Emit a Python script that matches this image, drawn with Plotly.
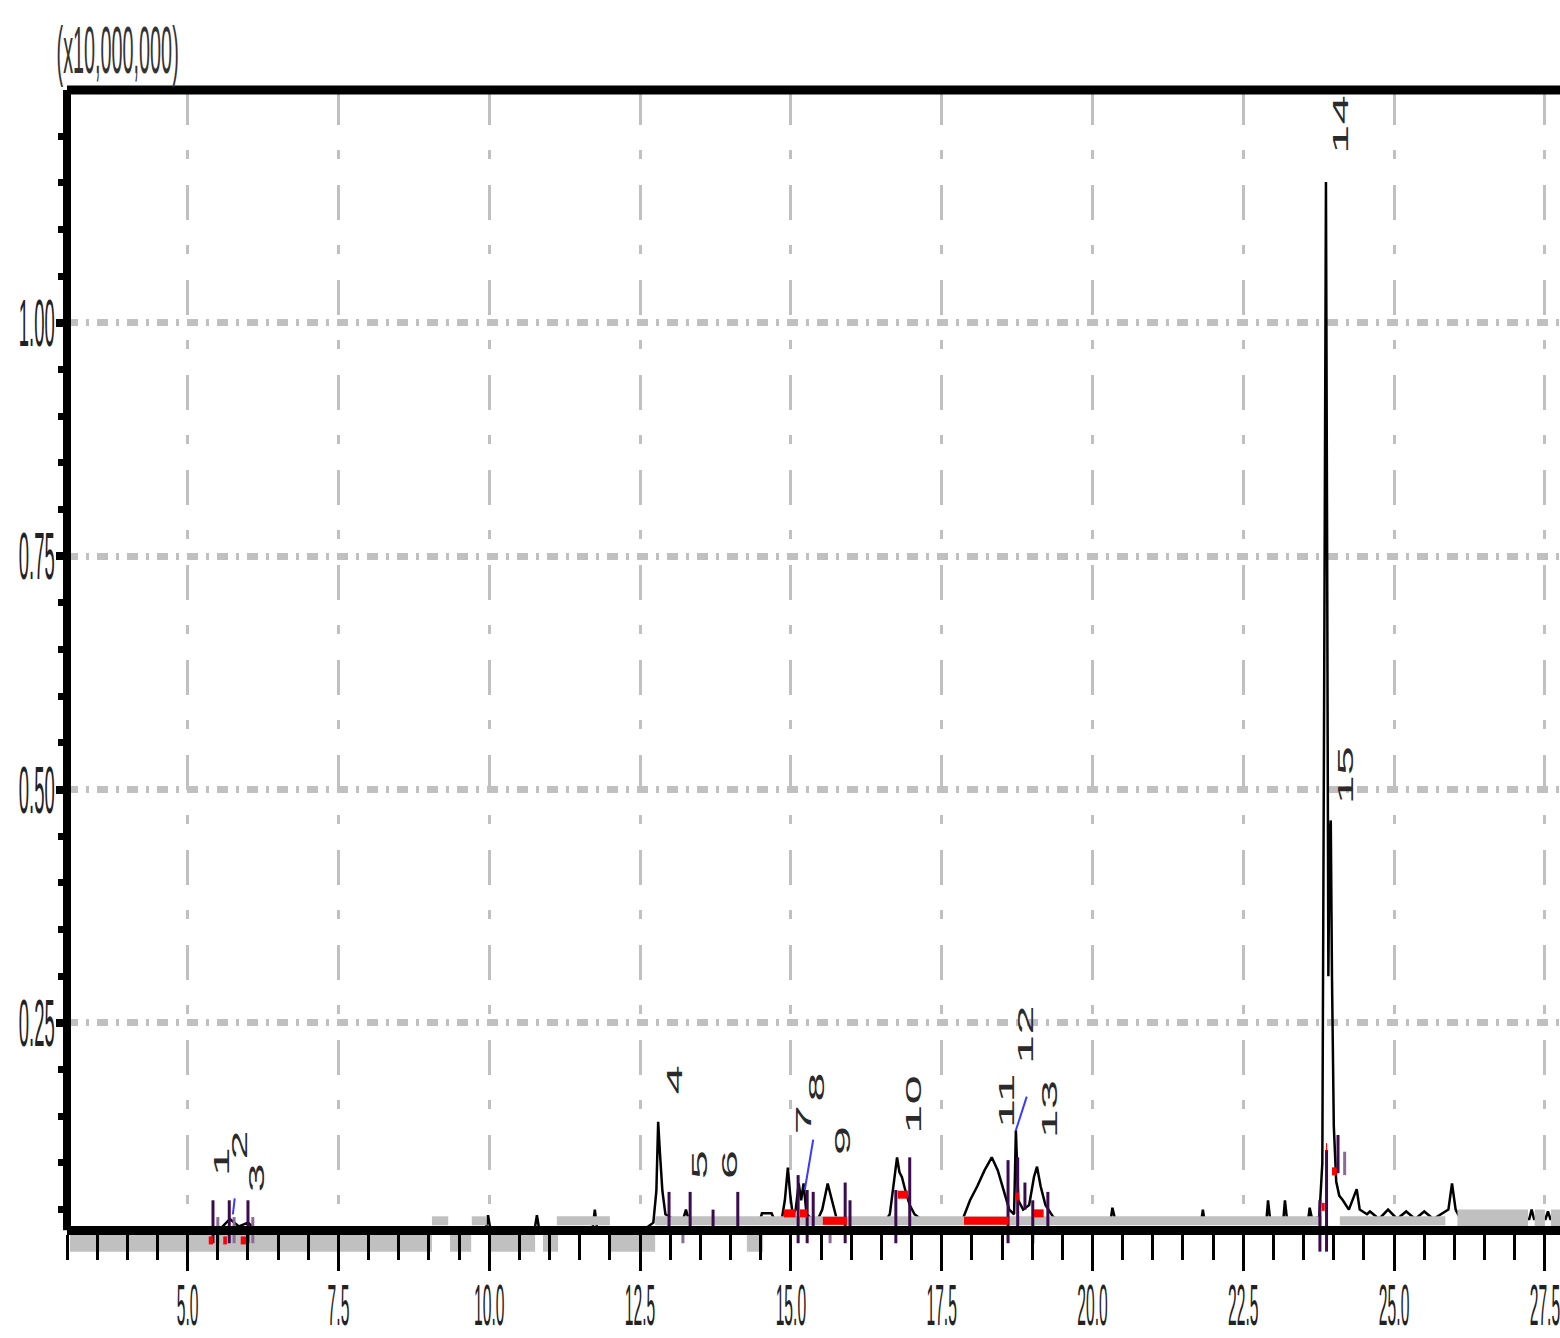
import plotly.graph_objects as go

# ---------------- data ----------------
# chromatogram signal (retention time [min], intensity [x10,000,000])
sig_t = [3.00, 5.40, 5.55, 5.70, 5.85, 6.00, 6.15, 9.00, 9.94, 9.98, 10.02, 10.75, 10.79, 10.83,
         11.71, 11.75, 11.79, 12.55, 12.72, 12.77, 12.80, 12.83, 12.87, 12.92, 13.05, 13.20, 13.26,
         13.32, 14.48, 14.52, 14.68, 14.75, 14.85, 14.90, 14.95, 14.99, 15.03, 15.08, 15.13, 15.17,
         15.21, 15.26, 15.35, 15.45, 15.52, 15.61, 15.68, 15.76, 15.85, 16.55, 16.64, 16.70, 16.76,
         16.80, 16.84, 16.90, 16.97, 17.05, 17.15, 17.85, 17.97, 18.09, 18.21, 18.33, 18.43, 18.53,
         18.62, 18.70, 18.73, 18.77, 18.85, 18.95, 19.03, 19.08, 19.14, 19.22, 19.35, 19.50, 20.30,
         20.33, 20.38, 21.80, 21.83, 21.86, 22.88, 22.91, 22.95, 23.16, 23.19, 23.23, 23.57, 23.60,
         23.64, 23.76, 23.81, 23.84, 23.87, 23.89, 23.91, 23.93, 23.95, 23.97, 24.00, 24.04, 24.09,
         24.15, 24.25, 24.38, 24.43, 24.55, 24.60, 24.75, 24.90, 25.05, 25.20, 25.35, 25.50, 25.65,
         25.80, 25.90, 25.96, 26.02, 26.10, 27.24, 27.28, 27.32, 27.51, 27.55, 27.59, 27.75]
sig_v = [0.028, 0.028, 0.030, 0.040, 0.032, 0.036, 0.028, 0.028, 0.028, 0.044, 0.028, 0.028, 0.044, 0.028,
         0.028, 0.050, 0.028, 0.028, 0.036, 0.070, 0.144, 0.110, 0.070, 0.045, 0.040, 0.036, 0.050,
         0.036, 0.036, 0.046, 0.046, 0.036, 0.040, 0.060, 0.095, 0.065, 0.045, 0.050, 0.078, 0.060,
         0.078, 0.045, 0.040, 0.040, 0.050, 0.078, 0.060, 0.040, 0.038, 0.036, 0.045, 0.075, 0.106,
         0.090, 0.085, 0.070, 0.055, 0.045, 0.040, 0.040, 0.060, 0.075, 0.092, 0.106, 0.092, 0.070,
         0.050, 0.045, 0.135, 0.060, 0.050, 0.055, 0.085, 0.096, 0.075, 0.055, 0.042, 0.038, 0.038,
         0.052, 0.038, 0.036, 0.050, 0.036, 0.036, 0.060, 0.036, 0.036, 0.060, 0.036, 0.036, 0.052,
         0.040, 0.042, 0.100, 0.600, 1.151, 0.750, 0.300, 0.450, 0.467, 0.300, 0.140, 0.080, 0.065,
         0.060, 0.050, 0.072, 0.050, 0.045, 0.048, 0.040, 0.050, 0.040, 0.048, 0.040, 0.048, 0.040,
         0.046, 0.050, 0.078, 0.050, 0.040, 0.040, 0.050, 0.040, 0.040, 0.048, 0.040, 0.040]

# integration baseline bands (start, end, level)
base_low_start = [3.05, 9.35, 10.01, 10.89, 12.00, 14.27]
base_low_end = [9.05, 9.70, 10.76, 11.14, 12.75, 14.54]
base_low_level = [0.014, 0.014, 0.014, 0.014, 0.014, 0.014]
base_mid_start = [9.05, 9.71, 11.12, 12.75, 24.10]
base_mid_end = [9.32, 9.96, 12.00, 23.80, 25.85]
base_mid_level = [0.038, 0.038, 0.038, 0.038, 0.038]
base_tail_start = [26.05, 27.33, 27.60]
base_tail_end = [27.22, 27.50, 27.75]
base_tail_level = [0.041, 0.041, 0.041]

# peak start/end markers (time, top, bottom)
mark_t = [5.42, 5.69, 6.00, 12.98, 13.33, 13.71, 14.12, 15.12, 15.27, 15.37, 15.90, 15.98,
          16.74, 16.97, 18.60, 18.76, 18.88, 19.01, 19.26, 23.77, 23.88, 24.07]
mark_top = [0.060, 0.060, 0.060, 0.069, 0.069, 0.050, 0.069, 0.087, 0.071, 0.069, 0.079, 0.060,
            0.071, 0.106, 0.103, 0.106, 0.079, 0.060, 0.069, 0.060, 0.114, 0.130]
mark_bot = [0.014, 0.014, 0.014, 0.030, 0.030, 0.030, 0.030, 0.014, 0.014, 0.030, 0.014, 0.030,
            0.014, 0.030, 0.014, 0.030, 0.050, 0.014, 0.030, 0.005, 0.005, 0.089]
mark_light_t = [5.50, 5.77, 6.08, 13.21, 15.65, 24.18]
mark_light_top = [0.042, 0.042, 0.042, 0.023, 0.023, 0.112]
mark_light_bot = [0.014, 0.014, 0.014, 0.014, 0.014, 0.087]

# red peak-top flags (start, end, level)
red_start = [5.35, 5.59, 5.88, 14.88, 15.15, 15.53, 16.77, 17.87, 18.73, 19.03, 23.80, 23.87, 23.97]
red_end = [5.42, 5.65, 5.98, 15.08, 15.27, 15.93, 16.94, 18.61, 18.78, 19.19, 23.85, 23.89, 24.05]
red_level = [0.017, 0.017, 0.017, 0.046, 0.046, 0.038, 0.066, 0.038, 0.064, 0.046, 0.053, 0.117, 0.091]

# blue leader lines (t0, v0, t1, v1)
lead_t0 = [5.75, 15.23, 18.73]
lead_v0 = [0.045, 0.071, 0.135]
lead_t1 = [5.78, 15.37, 18.91]
lead_v1 = [0.062, 0.125, 0.171]

# peak number labels
lab_text = ["1", "2", "3", "4", "5", "6", "7", "8", "9", "10", "11", "12", "13", "14", "15"]
lab_t = [5.55, 5.85, 6.15, 13.08, 13.49, 13.99, 15.20, 15.43, 15.85, 17.02, 18.58, 18.88, 19.29, 24.10, 24.20]
lab_v = [0.101, 0.119, 0.084, 0.189, 0.098, 0.098, 0.146, 0.181, 0.124, 0.162, 0.167, 0.237, 0.157, 1.212, 0.515]

x_ticks = [5.0, 7.5, 10.0, 12.5, 15.0, 17.5, 20.0, 22.5, 25.0, 27.5]
x_ticktext = ["5.0", "7.5", "10.0", "12.5", "15.0", "17.5", "20.0", "22.5", "25.0", "27.5"]
y_ticks = [0.25, 0.50, 0.75, 1.00]
y_ticktext = ["0.25", "0.50", "0.75", "1.00"]
y_unit = "(x10,000,000)"

X_RANGE = [3.0, 27.75]
Y_RANGE = [0.0046, 1.2495]
AXIS_LEVEL = 0.028


def segs(s, e, lv):
    xs, ys = [], []
    for a, b, c in zip(s, e, lv):
        xs += [a, b, None]
        ys += [c, c, None]
    return xs, ys


def vsegs(t, top, bot):
    xs, ys = [], []
    for a, b, c in zip(t, top, bot):
        xs += [a, a, None]
        ys += [c, b, None]
    return xs, ys


fig = go.Figure()

fig.add_trace(go.Scatter(x=sig_t, y=sig_v, mode="lines",
                         line=dict(color="#000000", width=2.5), hoverinfo="skip"))
for s, e, lv, w in [(base_low_start, base_low_end, base_low_level, 17),
                    (base_mid_start, base_mid_end, base_mid_level, 9),
                    (base_tail_start, base_tail_end, base_tail_level, 17)]:
    xs, ys = segs(s, e, lv)
    fig.add_trace(go.Scatter(x=xs, y=ys, mode="lines",
                             line=dict(color="#c0c0c0", width=w), hoverinfo="skip"))
xs, ys = vsegs(mark_light_t, mark_light_top, mark_light_bot)
fig.add_trace(go.Scatter(x=xs, y=ys, mode="lines", line=dict(color="#8c6a98", width=3), hoverinfo="skip"))
xs, ys = vsegs(mark_t, mark_top, mark_bot)
fig.add_trace(go.Scatter(x=xs, y=ys, mode="lines", line=dict(color="#3c0a4e", width=3), hoverinfo="skip"))
xs, ys = segs(red_start, red_end, red_level)
fig.add_trace(go.Scatter(x=xs, y=ys, mode="lines", line=dict(color="#ff0000", width=8), hoverinfo="skip"))
lx, ly = [], []
for a, b, c, d in zip(lead_t0, lead_v0, lead_t1, lead_v1):
    lx += [a, c, None]
    ly += [b, d, None]
fig.add_trace(go.Scatter(x=lx, y=ly, mode="lines", line=dict(color="#3a3aff", width=2), hoverinfo="skip"))

for txt, t, v in zip(lab_text, lab_t, lab_v):
    fig.add_annotation(x=t, y=v, text=txt, textangle=-90, showarrow=False,
                       font=dict(family="Liberation Sans, Arial, sans-serif", size=22, color="#2a2a2a"),
                       xanchor="center", yanchor="middle")

fig.add_annotation(x=0.0335, y=1.0344, xref="paper", yref="paper", text=y_unit, showarrow=False,
                   font=dict(family="Liberation Sans, Arial, sans-serif", size=66, color="#333333"),
                   xanchor="center", yanchor="middle")

# frame: top line and left axis line (left line stops at the x axis)
fig.add_shape(type="line", xref="paper", yref="paper", x0=0, x1=1, y0=1, y1=1,
              line=dict(color="#000000", width=9), layer="above")
fig.add_shape(type="line", xref="paper", yref="y", x0=0, x1=0, y0=AXIS_LEVEL, y1=Y_RANGE[1],
              line=dict(color="#000000", width=8), layer="above")

fig.update_layout(
    width=1560, height=1338,
    margin=dict(l=67, r=0, t=90, b=86, autoexpand=False),
    paper_bgcolor="#ffffff", plot_bgcolor="#ffffff",
    showlegend=False,
    xaxis=dict(range=X_RANGE, anchor="free", position=0.0189, automargin=False,
               tickvals=x_ticks, ticktext=x_ticktext, ticklabelstandoff=-16,
               ticklabeloverflow="allow",
               showline=True, linecolor="#000000", linewidth=9,
               ticks="outside", ticklen=36, tickwidth=3, tickcolor="#000000",
               minor=dict(dtick=0.5, tick0=3.0, ticks="outside", ticklen=25, tickwidth=3,
                          tickcolor="#000000", showgrid=False),
               showgrid=True, gridcolor="#c0c0c0", gridwidth=3, griddash="35px,25px,9px,26px",
               zeroline=False,
               tickfont=dict(family="Liberation Sans, Arial, sans-serif", size=58, color="#222222")),
    yaxis=dict(range=Y_RANGE, tickvals=y_ticks, ticktext=y_ticktext, automargin=False,
               ticklabelstandoff=-12, ticklabeloverflow="allow",
               showline=False,
               ticks="outside", ticklen=10, tickwidth=8, tickcolor="#000000",
               minor=dict(dtick=0.05, tick0=0, ticks="outside", ticklen=8, tickwidth=7,
                          tickcolor="#000000", showgrid=False),
               showgrid=True, gridcolor="#c0c0c0", gridwidth=7, griddash="11px,8px,3px,8px",
               zeroline=False,
               tickfont=dict(family="Liberation Sans, Arial, sans-serif", size=66, color="#222222")),
)

post = """
document.body.style.margin = '0';
document.body.style.padding = '0';
function stretch(el, sx, sy, mode){
  var bb = el.getBBox();
  var cx = (mode === 'end') ? bb.x + bb.width : bb.x + bb.width / 2;
  var cy = bb.y + bb.height / 2;
  var tr = el.getAttribute('transform') || '';
  el.setAttribute('transform', tr + ' translate(' + cx + ',' + cy + ') scale(' + sx + ',' + sy + ') translate(' + (-cx) + ',' + (-cy) + ')');
}
document.querySelectorAll('.xtick text').forEach(function(t){ stretch(t, 0.27, 1, 'mid'); });
document.querySelectorAll('.ytick text').forEach(function(t){ stretch(t, 0.28, 1, 'end'); });
document.querySelectorAll('text.annotation-text').forEach(function(t){
  if (t.textContent.indexOf('x10') >= 0) { stretch(t, 0.3, 1, 'mid'); }
  else { stretch(t, 2.4, 1, 'mid'); }
});
"""

fig.write_html("out.html", post_script=post, config={"displayModeBar": False})
